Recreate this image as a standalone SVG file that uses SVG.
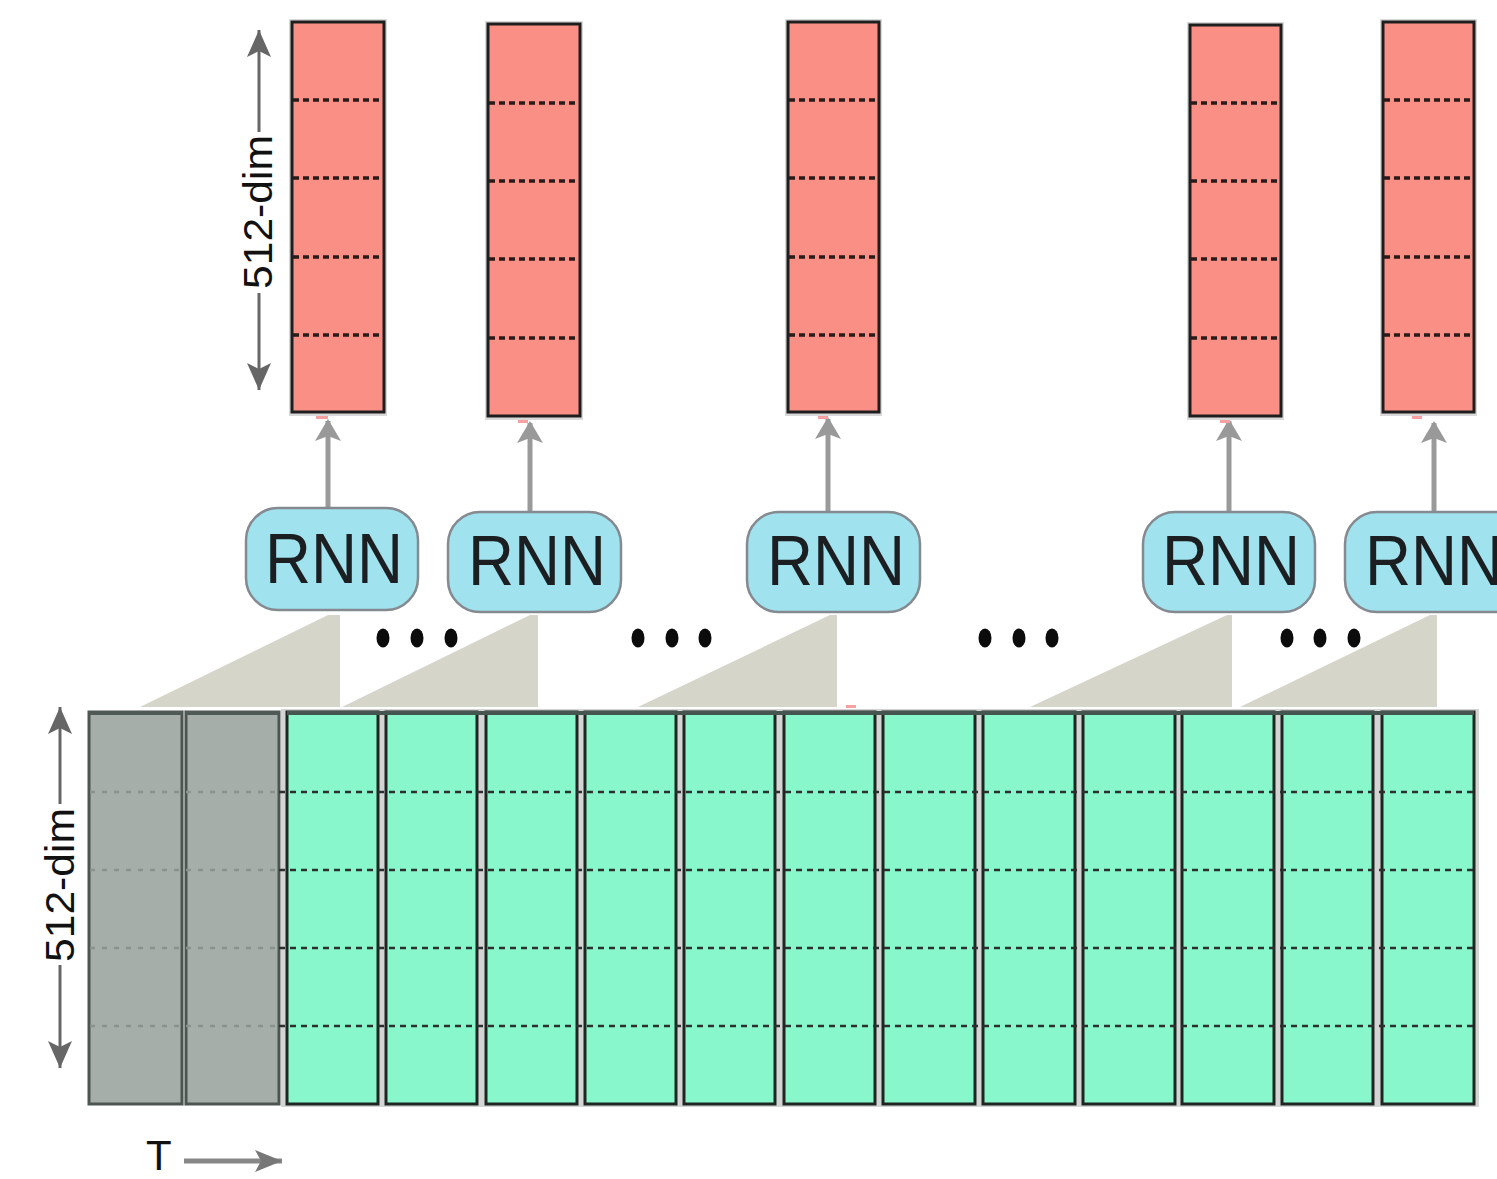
<svg xmlns="http://www.w3.org/2000/svg" width="1497" height="1179" viewBox="0 0 1497 1179">
  <defs>
    <style>
      .bar { fill: #fa8f85; stroke: #1e1e1e; stroke-width: 3; }
      .bar-shadow { fill: #d9d9d9; }
      .bar-div { stroke: #2a1a18; stroke-width: 3.5; stroke-dasharray: 6 4; }
      .rnn { fill: #a0e2ee; stroke: #858a90; stroke-width: 2.5; }
      .rnn-label { font-family: "Liberation Sans", Arial, sans-serif; font-size: 70px; fill: #1b1f22; }
      .wedge { fill: #d6d5ca; }
      .dots { fill: #0c0c0c; }
      .feed { stroke: #9a9a9a; stroke-width: 5; fill: none; }
      .col-gray { fill: #a6aeaa; stroke: #4d5551; stroke-width: 3; }
      .col-green { fill: #88f8cc; stroke: #1f2622; stroke-width: 3; }
      .grid-div { stroke: #2b2f2d; stroke-width: 2.5; stroke-dasharray: 6 5; }
      .grid-div-faint { stroke: #8a928e; stroke-width: 2.5; stroke-dasharray: 5 7; }
      .dim { stroke: #666; stroke-width: 3; fill: none; }
      .dim-label { font-family: "Liberation Sans", Arial, sans-serif; font-size: 40px; fill: #111; }
      .t-label { font-family: "Liberation Sans", Arial, sans-serif; font-size: 42px; fill: #111; }
      .speck { fill: #f6a0a0; }
    </style>
    <marker id="headFeed" markerUnits="userSpaceOnUse" markerWidth="30" markerHeight="30" viewBox="0 0 30 30" refX="25" refY="15" orient="auto">
      <path d="M27 15 L5 2 L10 15 L5 28 Z" fill="#999"/>
    </marker>
    <marker id="headDim" markerUnits="userSpaceOnUse" markerWidth="28" markerHeight="30" viewBox="0 0 28 30" refX="14" refY="1" orient="0">
      <path d="M14 1 L26 28 L14 22 L2 28 Z" fill="#666"/>
    </marker>
    <marker id="headDimDown" markerUnits="userSpaceOnUse" markerWidth="28" markerHeight="30" viewBox="0 0 28 30" refX="14" refY="29" orient="0">
      <path d="M14 29 L26 2 L14 8 L2 2 Z" fill="#666"/>
    </marker>
    <marker id="headT" markerUnits="userSpaceOnUse" markerWidth="30" markerHeight="24" viewBox="0 0 30 24" refX="29" refY="12" orient="0">
      <path d="M29 12 L2 1 L8 12 L2 23 Z" fill="#777"/>
    </marker>
  </defs>

  <rect width="1497" height="1179" fill="#ffffff"/>

  <!-- receptive-field wedges from the input frames up to each RNN -->
  <g id="connectors">
    <polygon class="wedge" points="140,707 328,615 340,615 340,707"/>
    <polygon class="wedge" points="342,707 530,615 538,615 538,707"/>
    <polygon class="wedge" points="638,707 830,615 837,615 837,707"/>
    <polygon class="wedge" points="1030,707 1227,615 1232,615 1232,707"/>
    <polygon class="wedge" points="1240,707 1430,615 1437,615 1437,707"/>

    <!-- RNN to output arrows -->
    <line class="feed" x1="328" y1="508" x2="328" y2="421" marker-end="url(#headFeed)"/>
    <line class="feed" x1="530" y1="512" x2="530" y2="423" marker-end="url(#headFeed)"/>
    <line class="feed" x1="828" y1="512" x2="828" y2="419" marker-end="url(#headFeed)"/>
    <line class="feed" x1="1229" y1="512" x2="1229" y2="421" marker-end="url(#headFeed)" stroke-width="6"/>
    <line class="feed" x1="1434" y1="512" x2="1434" y2="423" marker-end="url(#headFeed)"/>
  </g>

  <!-- output feature vectors -->
  <g id="out1">
    <rect class="bar-shadow" x="289" y="19" width="98" height="397"/>
    <rect class="bar" x="292" y="22" width="92" height="390"/>
    <line class="bar-div" x1="293" y1="100" x2="383" y2="100"/>
    <line class="bar-div" x1="293" y1="178" x2="383" y2="178"/>
    <line class="bar-div" x1="293" y1="257" x2="383" y2="257"/>
    <line class="bar-div" x1="293" y1="335" x2="383" y2="335"/>
    <rect class="speck" x="316" y="416" width="12" height="3"/>
  </g>
  <g id="out2">
    <rect class="bar-shadow" x="485" y="21" width="98" height="399"/>
    <rect class="bar" x="488" y="24" width="92" height="392"/>
    <line class="bar-div" x1="489" y1="103" x2="579" y2="103"/>
    <line class="bar-div" x1="489" y1="181" x2="579" y2="181"/>
    <line class="bar-div" x1="489" y1="259" x2="579" y2="259"/>
    <line class="bar-div" x1="489" y1="338" x2="579" y2="338"/>
    <rect class="speck" x="518" y="420" width="10" height="3"/>
  </g>
  <g id="out3">
    <rect class="bar-shadow" x="785" y="19" width="97" height="397"/>
    <rect class="bar" x="788" y="22" width="91" height="390"/>
    <line class="bar-div" x1="789" y1="100" x2="878" y2="100"/>
    <line class="bar-div" x1="789" y1="178" x2="878" y2="178"/>
    <line class="bar-div" x1="789" y1="257" x2="878" y2="257"/>
    <line class="bar-div" x1="789" y1="335" x2="878" y2="335"/>
    <rect class="speck" x="818" y="416" width="10" height="3"/>
  </g>
  <g id="out4">
    <rect class="bar-shadow" x="1187" y="22" width="97" height="398"/>
    <rect class="bar" x="1190" y="25" width="91" height="391"/>
    <line class="bar-div" x1="1191" y1="103" x2="1280" y2="103"/>
    <line class="bar-div" x1="1191" y1="181" x2="1280" y2="181"/>
    <line class="bar-div" x1="1191" y1="259" x2="1280" y2="259"/>
    <line class="bar-div" x1="1191" y1="338" x2="1280" y2="338"/>
    <rect class="speck" x="1220" y="420" width="10" height="3"/>
  </g>
  <g id="out5">
    <rect class="bar-shadow" x="1380" y="19" width="97" height="397"/>
    <rect class="bar" x="1383" y="22" width="91" height="390"/>
    <line class="bar-div" x1="1384" y1="100" x2="1473" y2="100"/>
    <line class="bar-div" x1="1384" y1="178" x2="1473" y2="178"/>
    <line class="bar-div" x1="1384" y1="257" x2="1473" y2="257"/>
    <line class="bar-div" x1="1384" y1="335" x2="1473" y2="335"/>
    <rect class="speck" x="1412" y="416" width="10" height="3"/>
  </g>

  <!-- recurrent units -->
  <g id="rnn1">
    <rect class="rnn" x="246" y="508" width="172" height="102" rx="32"/>
    <text class="rnn-label" x="265" y="583" textLength="138" lengthAdjust="spacingAndGlyphs">RNN</text>
  </g>
  <g id="rnn2">
    <rect class="rnn" x="448" y="512" width="173" height="100" rx="32"/>
    <text class="rnn-label" x="468" y="585" textLength="138" lengthAdjust="spacingAndGlyphs">RNN</text>
  </g>
  <g id="rnn3">
    <rect class="rnn" x="747" y="512" width="173" height="100" rx="32"/>
    <text class="rnn-label" x="767" y="585" textLength="138" lengthAdjust="spacingAndGlyphs">RNN</text>
  </g>
  <g id="rnn4">
    <rect class="rnn" x="1143" y="512" width="172" height="100" rx="32"/>
    <text class="rnn-label" x="1162" y="585" textLength="138" lengthAdjust="spacingAndGlyphs">RNN</text>
  </g>
  <!-- this unit runs past the right edge of the canvas -->
  <g id="rnn5">
    <rect class="rnn" x="1345" y="512" width="190" height="100" rx="32"/>
    <text class="rnn-label" x="1365" y="585" textLength="138" lengthAdjust="spacingAndGlyphs">RNN</text>
  </g>

  <!-- ellipsis marks between units -->
  <g id="ellipses" class="dots">
    <ellipse cx="383" cy="638" rx="6.5" ry="9.5"/>
    <ellipse cx="417" cy="638" rx="6.5" ry="9.5"/>
    <ellipse cx="451" cy="638" rx="6.5" ry="9.5"/>
    <ellipse cx="638" cy="638" rx="6.5" ry="9.5"/>
    <ellipse cx="672" cy="638" rx="6.5" ry="9.5"/>
    <ellipse cx="705" cy="638" rx="6.5" ry="9.5"/>
    <ellipse cx="985" cy="638" rx="6.5" ry="9.5"/>
    <ellipse cx="1019" cy="638" rx="6.5" ry="9.5"/>
    <ellipse cx="1052" cy="638" rx="6.5" ry="9.5"/>
    <ellipse cx="1287" cy="638" rx="6.5" ry="9.5"/>
    <ellipse cx="1320" cy="638" rx="6.5" ry="9.5"/>
    <ellipse cx="1354" cy="638" rx="6.5" ry="9.5"/>
  </g>

  <!-- input frame sequence -->
  <g id="frames">
    <rect x="281" y="709" width="1198" height="398" fill="#d4d4d4"/>
    <rect x="182" y="710" width="5" height="396" fill="#e8ecea"/>
    <rect id="f1" class="col-gray" x="89" y="712" width="93" height="392"/>
    <rect id="f2" class="col-gray" x="186" y="712" width="93" height="392"/>
    <rect id="f3" class="col-green" x="287" y="712" width="91" height="392"/>
    <rect id="f4" class="col-green" x="386" y="712" width="91" height="392"/>
    <rect id="f5" class="col-green" x="486" y="712" width="91" height="392"/>
    <rect id="f6" class="col-green" x="585" y="712" width="91" height="392"/>
    <rect id="f7" class="col-green" x="684" y="712" width="91" height="392"/>
    <rect id="f8" class="col-green" x="784" y="712" width="91" height="392"/>
    <rect id="f9" class="col-green" x="883" y="712" width="92" height="392"/>
    <rect id="f10" class="col-green" x="983" y="712" width="92" height="392"/>
    <rect id="f11" class="col-green" x="1083" y="712" width="92" height="392"/>
    <rect id="f12" class="col-green" x="1182" y="712" width="92" height="392"/>
    <rect id="f13" class="col-green" x="1282" y="712" width="91" height="392"/>
    <rect id="f14" class="col-green" x="1382" y="712" width="92" height="392"/>
    <!-- darker top rim -->
    <line x1="89" y1="713" x2="182" y2="713" stroke="#4f5a56" stroke-width="4"/>
    <line x1="186" y1="713" x2="279" y2="713" stroke="#4f5a56" stroke-width="4"/>
    <line x1="287" y1="713" x2="1474" y2="713" stroke="#45554f" stroke-width="4"/>
    <!-- feature divisions -->
    <g class="grid-div-faint">
      <line x1="90" y1="792" x2="279" y2="792"/>
      <line x1="90" y1="870" x2="279" y2="870"/>
      <line x1="90" y1="948" x2="279" y2="948"/>
      <line x1="90" y1="1026" x2="279" y2="1026"/>
    </g>
    <g class="grid-div">
      <line x1="279" y1="792" x2="1474" y2="792"/>
      <line x1="279" y1="870" x2="1474" y2="870"/>
      <line x1="279" y1="948" x2="1474" y2="948"/>
      <line x1="279" y1="1026" x2="1474" y2="1026"/>
    </g>
    <rect class="speck" x="846" y="705" width="10" height="3"/>
  </g>

  <!-- dimension annotations -->
  <g id="dim-top">
    <line class="dim" x1="259" y1="30" x2="259" y2="132" marker-start="url(#headDim)"/>
    <line class="dim" x1="259" y1="293" x2="259" y2="390" marker-end="url(#headDimDown)"/>
    <text class="dim-label" transform="translate(272,212) rotate(-90)" text-anchor="middle" textLength="154" lengthAdjust="spacingAndGlyphs">512-dim</text>
  </g>
  <g id="dim-bottom">
    <line class="dim" x1="60" y1="707" x2="60" y2="804" marker-start="url(#headDim)"/>
    <line class="dim" x1="60" y1="965" x2="60" y2="1068" marker-end="url(#headDimDown)"/>
    <text class="dim-label" transform="translate(74,885) rotate(-90)" text-anchor="middle" textLength="154" lengthAdjust="spacingAndGlyphs">512-dim</text>
  </g>
  <g id="time-axis">
    <text class="t-label" x="146" y="1170">T</text>
    <line x1="184" y1="1161" x2="282" y2="1161" stroke="#888" stroke-width="5" marker-end="url(#headT)"/>
  </g>
</svg>
